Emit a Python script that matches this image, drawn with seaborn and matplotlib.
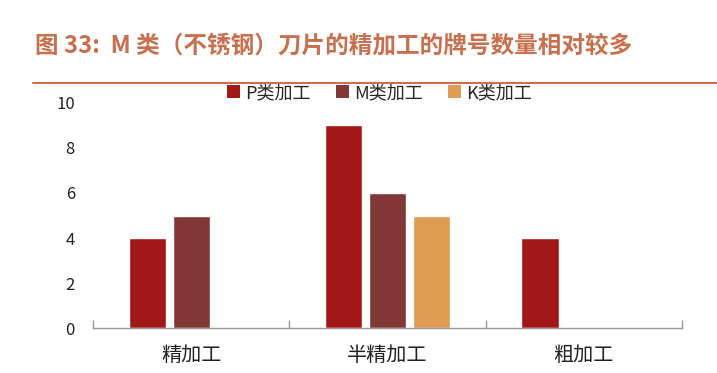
import pandas as pd
import seaborn as sns
import matplotlib.pyplot as plt
from matplotlib.patches import Patch
from matplotlib.ticker import FixedLocator

categories = ["精加工", "半精加工", "粗加工"]
series_names = ["P类加工", "M类加工", "K类加工"]
p_values = [4, 9, 4]
m_values = [5, 6, 0]
k_values = [0, 5, 0]
y_ticks = [0, 2, 4, 6, 8, 10]

colors = ["#A21818", "#833838", "#E09C52"]
title_color = "#C8704E"

rows = []
for name, vals in zip(series_names, [p_values, m_values, k_values]):
    for cat, v in zip(categories, vals):
        rows.append({"category": cat, "series": name, "value": v})
df = pd.DataFrame(rows)

sns.set_theme(style="white")
plt.rcParams['font.family'] = ['Noto Sans CJK SC', 'DejaVu Sans']

fig = plt.figure(figsize=(7.17, 3.73), dpi=100)
ax = fig.add_axes([0.1297, 0.1206, 0.8213, 0.6033])

sns.barplot(data=df, x="category", y="value", hue="series", palette=colors,
            width=0.67, gap=0.15, ax=ax, legend=False, saturation=1)

ax.set_ylim(0, 10)
ax.set_xlim(-0.5, 2.5)
ax.set_yticks(y_ticks)
ax.set_xlabel("")
ax.set_ylabel("")
for s in ["top", "right", "left"]:
    ax.spines[s].set_visible(False)
ax.spines["bottom"].set_color("#999999")
ax.spines["bottom"].set_linewidth(1.0)
ax.tick_params(axis="y", length=0, pad=13, labelsize=12, labelcolor="#222222")
ax.tick_params(axis="x", length=0, pad=12, labelsize=14.5, labelcolor="#222222")
ax.xaxis.set_minor_locator(FixedLocator([-0.5, 0.5, 1.5, 2.5]))
ax.tick_params(axis="x", which="minor", bottom=True, direction="in", length=6,
               color="#999999", width=1)

# hide zero-height bars
for p in ax.patches:
    if p.get_height() == 0:
        p.set_visible(False)

handles = [Patch(facecolor=c, edgecolor="none") for c in colors]
ax.legend(handles, series_names, loc="center", bbox_to_anchor=(0.487, 1.045), ncol=3,
          frameon=False, fontsize=13, handlelength=0.7, handleheight=0.7,
          handletextpad=0.3, columnspacing=1.4)

fig.text(0.049, 0.878, "图 33:  M 类（不锈钢）刀片的精加工的牌号数量相对较多",
         color=title_color, fontsize=17, fontweight="bold", va="center", ha="left")
fig.add_artist(plt.Line2D([0.046, 1.0], [0.777, 0.777], color=title_color, linewidth=1.5))

fig.savefig("out.png", dpi=100)
